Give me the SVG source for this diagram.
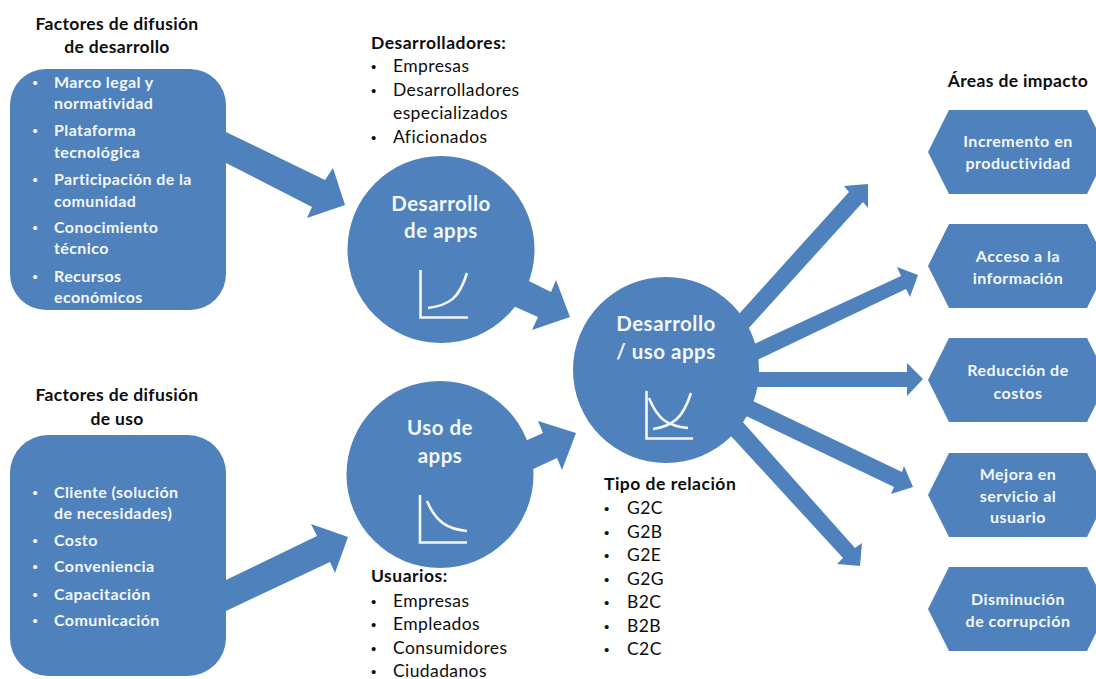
<svg xmlns="http://www.w3.org/2000/svg" width="1096" height="679" viewBox="0 0 1096 679">
<style>
text{font-family:"Lato","Carlito","Open Sans",sans-serif}
.shape{fill:#4f81bd}
.arrow{fill:#4f81bd}
.h{font-size:17.5px;font-weight:700;fill:#0d0d0d;text-anchor:middle;letter-spacing:.35px}
.l{font-size:16px;font-weight:700;fill:#f4f7fb;letter-spacing:.4px}
.c{font-size:20.5px;font-weight:700;fill:#f4f7fb;text-anchor:middle;letter-spacing:.5px}
.x{font-size:16px;font-weight:700;fill:#f4f7fb;text-anchor:middle;letter-spacing:.5px}
.b{font-size:17.500px;font-weight:700;fill:#0d0d0d;letter-spacing:.5px}
.r{font-size:17.500px;fill:#0d0d0d;letter-spacing:.4px}
text.d{font-family:"Liberation Sans",sans-serif;font-size:15px;letter-spacing:0}
.w{fill:#f4f7fb}
.k{fill:#0d0d0d}
.icon{fill:none;stroke:#f4f7fb;stroke-width:2.6}
</style>
<rect width="1096" height="679" fill="#fff"/>
<g id="connectors">
<polygon class="arrow" points="226,132 325,180 333,168 345,205 307,218 312,207 226,163"/>
<polygon class="arrow" points="226,580 317,536 311,524 348,537 335,573 330,562 226,611"/>
<polygon class="arrow" points="527,280 551,292 556,280 570,317 532,330 538,317 511,305"/>
<polygon class="arrow" points="523,442 543,433 538,421 576,433 562,470 557,458 529,471"/>
<polygon class="arrow" points="738,315 849,192 844,186 868,184 868,208 863,202 747,330"/>
<polygon class="arrow" points="752,345 901,276 897,267 918,275 910,297 906,289 755,361"/>
<polygon class="arrow" points="756,372 907,372 907,363 923,379 907,396 907,387 754,387"/>
<polygon class="arrow" points="751,400 902,472 904,466 913,487 891,494 894,487 744,415"/>
<polygon class="arrow" points="741,420 855,548 862,543 860,566 837,564 843,558 730,435"/>
</g>
<g id="titulo-desarrollo">
<text class="h" x="117" y="30">Factores de difusión</text>
<text class="h" x="117" y="53">de desarrollo</text>
</g>
<g id="factores-desarrollo">
<rect class="shape" x="10" y="69" width="216" height="241" rx="36"/>
<text class="d w" x="32.500" y="88">•</text><text class="l" x="54" y="88">Marco legal y</text>
<text class="l" x="54" y="109">normatividad</text>
<text class="d w" x="32.500" y="136">•</text><text class="l" x="54" y="136">Plataforma</text>
<text class="l" x="54" y="158">tecnológica</text>
<text class="d w" x="32.500" y="185">•</text><text class="l" x="54" y="185">Participación de la</text>
<text class="l" x="54" y="207">comunidad</text>
<text class="d w" x="32.500" y="233">•</text><text class="l" x="54" y="233">Conocimiento</text>
<text class="l" x="54" y="254">técnico</text>
<text class="d w" x="32.500" y="282">•</text><text class="l" x="54" y="282">Recursos</text>
<text class="l" x="54" y="303">económicos</text>
</g>
<g id="titulo-uso">
<text class="h" x="117" y="401">Factores de difusión</text>
<text class="h" x="117" y="425">de uso</text>
</g>
<g id="factores-uso">
<rect class="shape" x="10" y="435" width="216" height="241" rx="38"/>
<text class="d w" x="32.500" y="498">•</text><text class="l" x="54" y="498">Cliente (solución</text>
<text class="l" x="54" y="519">de necesidades)</text>
<text class="d w" x="32.500" y="546">•</text><text class="l" x="54" y="546">Costo</text>
<text class="d w" x="32.500" y="572">•</text><text class="l" x="54" y="572">Conveniencia</text>
<text class="d w" x="32.500" y="600">•</text><text class="l" x="54" y="600">Capacitación</text>
<text class="d w" x="32.500" y="626">•</text><text class="l" x="54" y="626">Comunicación</text>
</g>
<g id="desarrolladores">
<text class="b" x="371" y="49">Desarrolladores:</text>
<text class="d k" x="371" y="72">•</text><text class="r" x="393" y="72">Empresas</text>
<text class="d k" x="371" y="96">•</text><text class="r" x="393" y="96">Desarrolladores</text>
<text class="r" x="393" y="119">especializados</text>
<text class="d k" x="371" y="143">•</text><text class="r" x="393" y="143">Aficionados</text>
</g>
<g id="desarrollo-apps">
<circle class="shape" cx="441" cy="249.5" r="93.5"/>
<text class="c" x="441" y="211">Desarrollo</text>
<text class="c" x="441" y="238">de apps</text>
<path class="icon" d="M420.5 270V317.5H468M428 308C449 305 459 299 467 273"/>
</g>
<g id="uso-apps">
<circle class="shape" cx="440" cy="474.5" r="93.5"/>
<text class="c" x="440" y="435">Uso de</text>
<text class="c" x="440" y="463">apps</text>
<path class="icon" d="M420 495V542.5H467M427 501C436 522 447 529 467 531"/>
</g>
<g id="desarrollo-uso-apps">
<circle class="shape" cx="666" cy="370" r="93"/>
<text class="c" x="666" y="331">Desarrollo</text>
<text class="c" x="666" y="359">/ uso apps</text>
<path class="icon" d="M646.5 391V438.500H693M653 429C673 426 683 418 691 393M649 398C658 420 668 426 688 428"/>
</g>
<g id="usuarios">
<text class="b" x="371" y="582">Usuarios:</text>
<text class="d k" x="371" y="607">•</text><text class="r" x="393" y="607">Empresas</text>
<text class="d k" x="371" y="630">•</text><text class="r" x="393" y="630">Empleados</text>
<text class="d k" x="371" y="654">•</text><text class="r" x="393" y="654">Consumidores</text>
<text class="d k" x="371" y="677">•</text><text class="r" x="393" y="677">Ciudadanos</text>
</g>
<g id="tipo-relacion">
<text class="b" x="604" y="490">Tipo de relación</text>
<text class="d k" x="604" y="514">•</text><text class="r" x="627" y="514">G2C</text>
<text class="d k" x="604" y="538">•</text><text class="r" x="627" y="538">G2B</text>
<text class="d k" x="604" y="561">•</text><text class="r" x="627" y="561">G2E</text>
<text class="d k" x="604" y="585">•</text><text class="r" x="627" y="585">G2G</text>
<text class="d k" x="604" y="608">•</text><text class="r" x="627" y="608">B2C</text>
<text class="d k" x="604" y="632">•</text><text class="r" x="627" y="632">B2B</text>
<text class="d k" x="604" y="655">•</text><text class="r" x="627" y="655">C2C</text>
</g>
<g id="titulo-areas">
<text class="h" x="1018" y="87">Áreas de impacto</text>
</g>
<g id="incremento">
<polygon class="shape" points="928,152 949,110 1087,110 1108,152 1087,194 949,194"/>
<text class="x" x="1018" y="147">Incremento en</text>
<text class="x" x="1018" y="169">productividad</text>
</g>
<g id="acceso">
<polygon class="shape" points="928,266 949,224 1087,224 1108,266 1087,308 949,308"/>
<text class="x" x="1018" y="262">Acceso a la</text>
<text class="x" x="1018" y="284">información</text>
</g>
<g id="reduccion">
<polygon class="shape" points="928,380 949,338 1087,338 1108,380 1087,422 949,422"/>
<text class="x" x="1018" y="376">Reducción de</text>
<text class="x" x="1018" y="399">costos</text>
</g>
<g id="mejora">
<polygon class="shape" points="928,495 949,453 1087,453 1108,495 1087,537 949,537"/>
<text class="x" x="1018" y="480">Mejora en</text>
<text class="x" x="1018" y="502">servicio al</text>
<text class="x" x="1018" y="523">usuario</text>
</g>
<g id="disminucion">
<polygon class="shape" points="928,609 949,567 1087,567 1108,609 1087,651 949,651"/>
<text class="x" x="1018" y="605">Disminución</text>
<text class="x" x="1018" y="627">de corrupción</text>
</g>
</svg>
